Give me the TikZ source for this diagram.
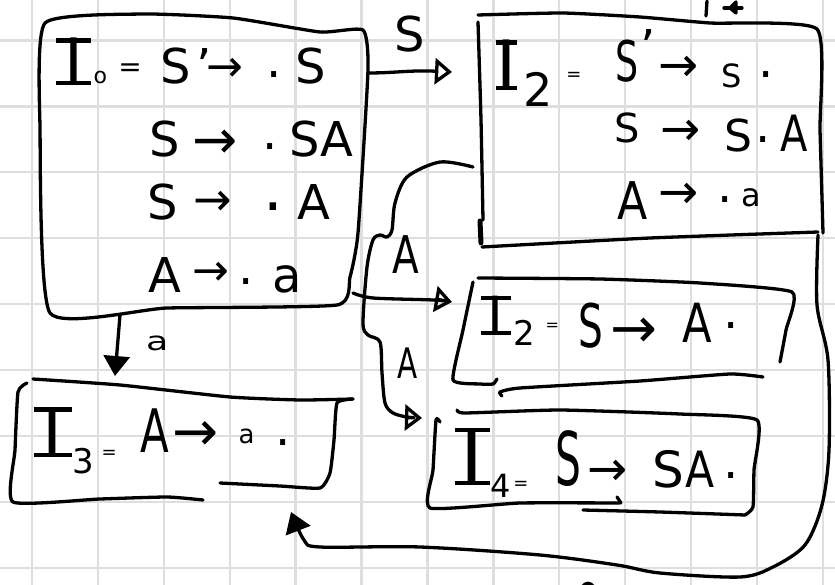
\documentclass[tikz,border=0pt]{standalone}
\usepackage{fontspec}
\usepackage{graphicx}
\setmainfont{DejaVu Sans}
\usetikzlibrary{arrows.meta}

% one glyph group placed at an x offset from the line start, raised, at a size
\newcommand\tk[4]{\makebox[0pt][l]{\hspace*{#1pt}\raisebox{#2pt}{\fontsize{#3}{#3}\selectfont #4}}}
% capital I with hand-style top and bottom bars of the given width
\newcommand\Ib[1]{\makebox[#1pt][c]{I}\hspace*{-#1pt}\rule{#1pt}{4.2pt}\hspace*{-#1pt}%
  \raisebox{\dimexpr0.729em-4.2pt\relax}{\rule{#1pt}{4.2pt}}}
\newcommand\hs[2]{\scalebox{#1}[1]{#2}}

\tikzset{
  gridline/.style={draw=black!13, line width=2.4pt},
  ink/.style={draw=black, line width=3.3pt, line cap=round, line join=round},
  txt/.style={anchor=base west, inner sep=0pt, outer sep=0pt},
  opentip/.style={-{Triangle[open, length=17pt, width=26pt, line width=3.3pt]}},
  fulltip/.style={-{Triangle[length=20pt, width=26pt]}},
}

\begin{document}
\begin{tikzpicture}[x=1pt, y=-1pt]
  \fill[white] (0,0) rectangle (835,585);
  \useasboundingbox (0,0) rectangle (835,585);

  % squared paper
  \foreach \k in {0,...,12} \draw[gridline] ({32+65.9*\k},0) -- ++(0,585);
  \foreach \k in {0,...,8}  \draw[gridline] (0,{40.5+65.9*\k}) -- ++(835,0);

  % ---------- item sets (hand drawn outlines) ----------
  % I0
  \draw[ink] plot[smooth cycle, tension=0.3] coordinates {
    (45,23) (143,14) (233,18) (320,32) (363,30) (368,70) (358,233)
    (350,277) (337,305) (167,308) (50,313) (40,127)};
  % top right set
  \draw[ink] plot[smooth, tension=0.3] coordinates {
    (478,15) (563,13) (640,17) (710,23) (817,29) (820,130) (823,233)};
  \draw[ink] plot[smooth, tension=0.3] coordinates {
    (478,22) (481,120) (483,220)};
  \draw[ink, line width=5pt] (480,221) -- (481,243);
  \draw[ink] plot[smooth, tension=0.3] coordinates {
    (482,247) (650,238) (818,232)};
  % S -> A set
  \draw[ink] plot[smooth, tension=0.3] coordinates {
    (478,278) (600,279) (700,283) (792,292) (786,330) (780,362)};
  \draw[ink] plot[smooth, tension=0.3] coordinates {
    (473,282) (463,330) (453,380) (480,384) (493,384) (497,379)};
  \draw[ink] plot[smooth, tension=0.3] coordinates {
    (502,396) (500,392) (520,388) (640,381) (730,374) (763,377)};
  % S -> SA set
  \draw[ink] plot[smooth, tension=0.3] coordinates {
    (457,410) (465,413) (560,410) (680,414) (757,420) (754,470) (753,507) (745,515)};
  \draw[ink] plot[smooth, tension=0.3] coordinates {
    (440,422) (436,420) (433,470) (430,508) (520,503) (620,503)};
  \draw[ink] (617,497) -- (621,503);
  \draw[ink] plot[smooth, tension=0.3] coordinates {
    (583,510) (660,512) (745,515)};
  % A -> a set
  \draw[ink] plot[smooth, tension=0.3] coordinates {
    (33,379) (120,385) (230,397) (300,400) (353,399)};
  \draw[ink] plot[smooth, tension=0.3] coordinates {
    (27,383) (18,392) (15,450) (13,502) (100,499) (167,497) (203,500)};
  \draw[ink] plot[smooth, tension=0.3] coordinates {
    (220,483) (280,486) (320,488) (330,473) (334,440) (337,403) (353,399)};

  % ---------- contents ----------
  \node[txt] (t0a) at (0,84) {\tk{55}{-1}{64}{\Ib{36}}\tk{93}{0}{22}{o}\tk{118}{7}{28}{=}%
    \tk{160}{0}{48}{S}\tk{196}{0}{48}{'}\tk{206}{2}{44}{→}\tk{266}{6}{48}{.}\tk{295}{0}{48}{S}};
  \node[txt] (t0b) at (0,157) {\tk{149}{0}{48}{S}\tk{192}{-2}{54}{→}\tk{262}{7}{48}{.}%
    \tk{289}{0}{48}{S}\tk{320}{0}{48}{A}};
  \node[txt] (t0c) at (0,220) {\tk{147}{0}{48}{S}\tk{193}{4}{46}{→}\tk{263}{9}{62}{.}\tk{297}{0}{48}{A}};
  \node[txt] (t0d) at (0,292) {\tk{148}{0}{48}{A}\tk{192}{6}{44}{→}\tk{238}{8}{48}{.}\tk{272}{0}{48}{a}};

  \node[txt] (t1a) at (0,86) {\tk{495}{-4}{68}{\Ib{22}}\tk{523}{-21}{46}{2}\tk{566}{5}{18}{=}%
    \tk{615}{4}{56}{\hs{0.65}{S}}\tk{640}{21}{48}{'}\tk{658}{4}{48}{→}\tk{721}{-2}{32}{S}\tk{758}{8}{48}{.}};
  \node[txt] (t1b) at (0,148) {\tk{614}{5}{40}{S}\tk{660}{2}{48}{→}\tk{724}{-4}{44}{S}%
    \tk{755}{5}{48}{.}\tk{780}{-4}{50}{\hs{0.8}{A}}};
  \node[txt] (t1c) at (0,218) {\tk{617}{-2}{52}{\hs{0.85}{A}}\tk{658}{9}{48}{→}\tk{717}{15}{48}{.}%
    \tk{741}{11}{32}{a}};

  \node[txt] (t2) at (0,340) {\tk{480}{5}{54}{\Ib{30}}\tk{513}{-5}{34}{2}\tk{545}{10}{16}{=}%
    \tk{578}{-7}{60}{\hs{0.65}{S}}\tk{610}{-7}{56}{→}\tk{682}{-2}{54}{\hs{0.8}{A}}\tk{723}{12}{48}{.}};
  \node[txt] (t4) at (0,485) {\tk{455}{0}{78}{\Ib{34}}\tk{490}{-12}{32}{4}\tk{513}{-4}{18}{=}%
    \tk{555}{0}{74}{\hs{0.55}{S}}\tk{587}{0}{48}{→}\tk{652}{-2}{50}{S}\tk{685}{-2}{50}{\hs{0.85}{A}}\tk{723}{7}{48}{.}};
  \node[txt] (t3) at (0,455) {\tk{33}{-2}{68}{\Ib{38}}\tk{72}{-18}{34}{3}\tk{101}{-3}{18}{=}%
    \tk{140}{3}{60}{\hs{0.7}{A}}\tk{172}{5}{55}{→}\tk{238}{12}{26}{a}\tk{275}{10}{48}{.}};

  % ---------- transition labels ----------
  \node[txt] (ls) at (394,52) {\fontsize{48}{48}\selectfont S};
  \node[txt] (la1) at (392,273) {\fontsize{52}{52}\selectfont\hs{0.75}{A}};
  \node[txt] (la2) at (397,378) {\fontsize{42}{42}\selectfont\hs{0.7}{A}};
  \node[txt] (la) at (146,350) {\fontsize{26}{26}\selectfont\hs{1.4}{a}};

  % ---------- connector ends ----------
  \coordinate (i0e)  at (368,73);
  \coordinate (i1w)  at (452,72);
  \coordinate (i0se) at (353,293);
  \coordinate (i2w)  at (452,302);
  \coordinate (i1l)  at (473,167);
  \coordinate (i4w)  at (422,418);
  \coordinate (i0s)  at (120,315);
  \coordinate (i3n)  at (115,376);
  \coordinate (i1se) at (818,235);
  \coordinate (i3s)  at (291,512);

  % ---------- transitions ----------
  \draw[ink, opentip] (i0e) .. controls (395,73) and (410,70) .. (i1w);
  \draw[ink, opentip] plot[smooth, tension=0.5] coordinates {(i0se) (373,298) (433,300) (i2w)};
  \draw[ink, opentip] plot[smooth, tension=0.5] coordinates {
    (i1l) (440,162) (407,177) (395,203) (392,230) (387,237) (380,235) (373,240)
    (367,267) (363,323) (368,335) (380,342) (382,373) (385,403) (393,413) (407,417) (i4w)};
  \draw[ink, fulltip] (i0s) -- (i3n);
  \draw[ink, fulltip] plot[smooth, tension=0.5] coordinates {
    (i1se) (817,305) (828,360) (829,450) (822,505) (805,545) (773,567) (740,577)
    (660,573) (617,565) (540,555) (420,547) (320,547) (304,540) (i3s)};

  % strokes running off the sheet
  \draw[ink] (707,1) -- (706,16);
  \draw[ink] (724,8) -- (742,8);
  \draw[ink] (736,2) -- (730,8) -- (736,13) -- cycle;
  \draw[ink] (582,587) .. controls (586,582) and (590,582) .. (594,587);
\end{tikzpicture}
\end{document}
